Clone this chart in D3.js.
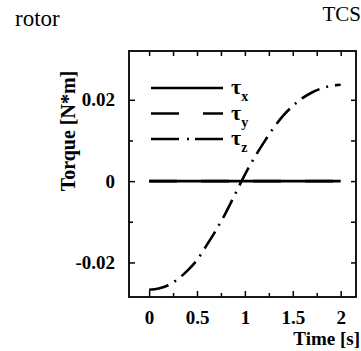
<!DOCTYPE html>
<html>
<head>
<meta charset="utf-8">
<script src="https://cdn.jsdelivr.net/npm/d3@7"></script>
<style>
  html, body { margin: 0; padding: 0; background: #fff; }
</style>
</head>
<body>
<div id="chart"></div>
<script>
// dati
const timeS = [0, 0.1, 0.2, 0.3, 0.4, 0.5, 0.6, 0.7, 0.8, 0.9, 1.0, 1.1, 1.2, 1.3, 1.4, 1.5, 1.6, 1.7, 1.8, 1.9, 2.0];
const tauX = [0, 0, 0, 0, 0, 0, 0, 0, 0, 0, 0, 0, 0, 0, 0, 0, 0, 0, 0, 0, 0];
const tauY = [0, 0, 0, 0, 0, 0, 0, 0, 0, 0, 0, 0, 0, 0, 0, 0, 0, 0, 0, 0, 0];
const tauZ = [-0.0267, -0.0264, -0.0256, -0.0241, -0.0220, -0.0194, -0.0158, -0.0120, -0.0078, -0.0031, 0.0016,
              0.0058, 0.0096, 0.0131, 0.0161, 0.0185, 0.0204, 0.0218, 0.0228, 0.0234, 0.0237];
const seriesNames = ['x', 'y', 'z'];
const xTicks = [0, 0.5, 1, 1.5, 2];
const xMinorTicks = [0.25, 0.75, 1.25, 1.75];
const yTicks = [-0.02, 0, 0.02];
const yMinorTicks = [-0.01, 0.01];

const FONT = "'Liberation Serif', 'Times New Roman', Times, 'DejaVu Serif', serif";
const W = 361, H = 351;
const box = { left: 129, right: 356, top: 51, bottom: 297 };

const svg = d3.select('#chart').append('svg')
  .attr('width', W)
  .attr('height', H)
  .attr('font-family', FONT)
  .style('display', 'block');

const x = d3.scaleLinear().domain([-0.21, 2.16]).range([box.left, box.right]);
const y = d3.scaleLinear().domain([-0.0285, 0.032]).range([box.bottom, box.top]);

// assi con tacche verso l'interno
function drawAxis(axis, transform, labels) {
  const g = svg.append('g').attr('transform', transform).call(axis)
    .attr('font-family', FONT)
    .attr('font-size', 19)
    .attr('font-weight', 'bold');
  g.select('.domain').remove();
  g.selectAll('line').attr('stroke', '#000').attr('stroke-width', 1.5);
  g.selectAll('text').attr('fill', labels ? '#000' : 'none');
  return g;
}

drawAxis(d3.axisBottom(x).tickValues(xTicks).tickSize(-6).tickPadding(14).tickFormat(d => String(d)),
  `translate(0,${box.bottom})`, true);
drawAxis(d3.axisBottom(x).tickValues(xMinorTicks).tickSize(-4).tickFormat(''), `translate(0,${box.bottom})`, false);
drawAxis(d3.axisTop(x).tickValues(xTicks.concat(xMinorTicks)).tickSize(-5).tickFormat(''), `translate(0,${box.top})`, false);

drawAxis(d3.axisLeft(y).tickValues(yTicks).tickSize(-6).tickPadding(14)
  .tickFormat(d => d === 0 ? '0' : d.toFixed(2)), `translate(${box.left},0)`, true);
drawAxis(d3.axisLeft(y).tickValues(yMinorTicks).tickSize(-4).tickFormat(''), `translate(${box.left},0)`, false);
drawAxis(d3.axisRight(y).tickValues(yTicks.concat(yMinorTicks)).tickSize(-5).tickFormat(''), `translate(${box.right},0)`, false);

// cornice
svg.append('rect')
  .attr('x', box.left).attr('y', box.top)
  .attr('width', box.right - box.left).attr('height', box.bottom - box.top)
  .attr('fill', 'none').attr('stroke', '#000').attr('stroke-width', 1.8);

svg.append('clipPath').attr('id', 'plotclip')
  .append('rect')
  .attr('x', box.left).attr('y', box.top)
  .attr('width', box.right - box.left).attr('height', box.bottom - box.top);

const line = d3.line()
  .x((d, i) => x(timeS[i]))
  .y(d => y(d))
  .curve(d3.curveMonotoneX);

const dashes = { x: null, y: '28,24', z: '20,7,2,7' };
const legendDashes = { x: null, y: '28,24', z: '28,8,2,6' };
const values = { x: tauX, y: tauY, z: tauZ };

const plot = svg.append('g').attr('clip-path', 'url(#plotclip)');
['y', 'x', 'z'].forEach(k => {
  plot.append('path')
    .datum(values[k])
    .attr('d', line)
    .attr('fill', 'none')
    .attr('stroke', '#000')
    .attr('stroke-width', 2.6)
    .attr('stroke-dasharray', dashes[k]);
});

// legenda
const legendY = [88, 113.5, 139];
seriesNames.forEach((k, i) => {
  svg.append('line')
    .attr('x1', 151).attr('x2', 223)
    .attr('y1', legendY[i]).attr('y2', legendY[i])
    .attr('stroke', '#000').attr('stroke-width', 2.6)
    .attr('stroke-dasharray', legendDashes[k]);
  const t = svg.append('text')
    .attr('x', 231).attr('y', legendY[i] + 6)
    .attr('font-weight', 'bold')
    .attr('font-size', 22);
  t.append('tspan').text('τ');
  t.append('tspan').attr('dy', 7).attr('font-size', 14).text(k);
});

// etichette degli assi
svg.append('text')
  .attr('transform', 'translate(75,131) rotate(-90)')
  .attr('text-anchor', 'middle')
  .attr('font-weight', 'bold')
  .attr('font-size', 20)
  .text('Torque [N*m]');

svg.append('text')
  .attr('x', 360).attr('y', 345)
  .attr('text-anchor', 'end')
  .attr('font-weight', 'bold')
  .attr('font-size', 19)
  .text('Time [s]');

// titoli
svg.append('text')
  .attr('x', 15).attr('y', 26)
  .attr('font-size', 23)
  .text('rotor');

svg.append('text')
  .attr('x', 361).attr('y', 21)
  .attr('text-anchor', 'end')
  .attr('font-size', 21)
  .text('TCS');
</script>
</body>
</html>
